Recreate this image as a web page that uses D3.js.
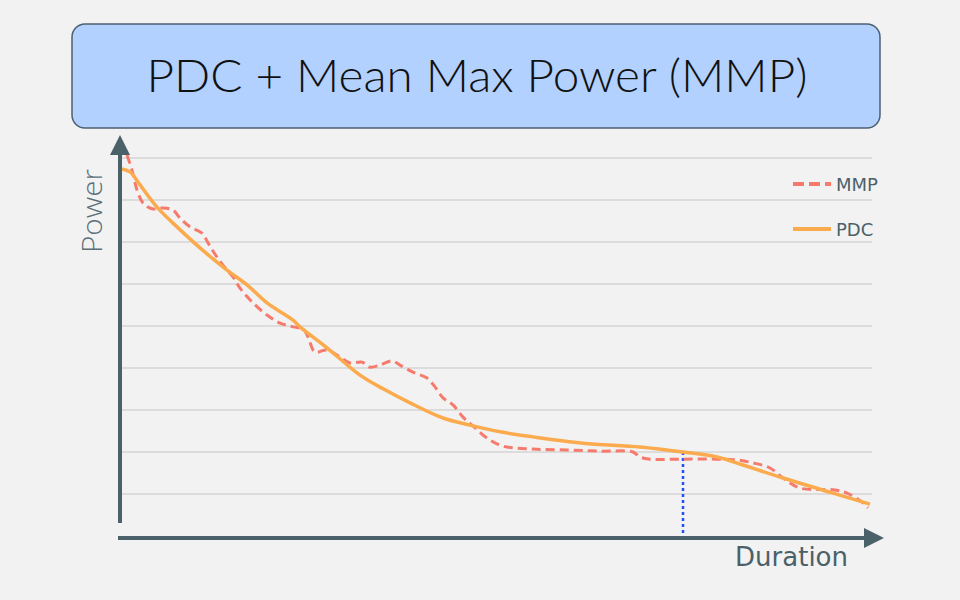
<!DOCTYPE html>
<html><head><meta charset="utf-8">
<script src="https://cdn.jsdelivr.net/npm/d3@7/dist/d3.min.js"></script>
<style>html,body{margin:0;padding:0;background:#f2f2f2;}svg{display:block;}</style>
</head><body>
<svg id="c" width="960" height="600"></svg>
<script>
const titleText = "PDC + Mean Max Power (MMP)";
const seriesNames = ["MMP", "PDC"];
const gridTicks = [100, 200, 300, 400, 500, 600, 700, 800, 900];
// PDC (modelled power duration curve): duration, power
const pdcDur = [2,10,20,37,57,80,107,127,147,173,180,207,240,265,290,323,350,380,413,463,520,563,597,623,663,713,750];
const pdcPow = [874,867,836,783,736,686,633,598,555,514,498,448,383,348,317,281,264,248,236,221,212,200,188,169,138,102,76];
// MMP (mean max power): duration, power
const mmpDur = [7,12,17,23,32,43,53,60,70,82,88,97,107,113,120,133,147,160,173,183,188,195,207,220,230,242,250,260,272,280,293,307,315,323,333,343,353,367,383,413,447,480,513,520,530,563,597,617,633,650,663,680,713,727,743,748];
const mmpPow = [907,871,824,793,779,781,776,757,736,721,698,664,633,617,590,555,526,507,498,493,474,438,443,426,412,414,402,407,417,407,390,376,355,329,312,283,262,233,214,207,205,202,200,188,183,183,183,181,174,162,138,114,110,102,79,67];
const markerDuration = 563;
const markerPower = 200;

const svg = d3.select("#c");
const axisCol = "#4b6169";

// Title box
svg.append("rect").attr("x",72).attr("y",24).attr("width",808).attr("height",104)
  .attr("rx",13).attr("fill","#b3d1fe").attr("stroke","#4e6072").attr("stroke-width",1.5);
svg.append("text").attr("x",477).attr("y",92).attr("text-anchor","middle")
  .attr("font-family","Lato, 'Open Sans', sans-serif").attr("font-weight",300).attr("font-size",45)
  .attr("fill","#111").attr("textLength",661).attr("lengthAdjust","spacingAndGlyphs")
  .text(titleText);

const x = d3.scaleLinear().domain([0,750]).range([120,870]);
const y = d3.scaleLinear().domain([0,900]).range([536,158]);

// grid
svg.append("g").selectAll("line").data(gridTicks).join("line")
  .attr("x1",122).attr("x2",872).attr("y1",d=>y(d)).attr("y2",d=>y(d))
  .attr("stroke","#dcdcdc").attr("stroke-width",2);

// marker
svg.append("line").attr("x1",x(markerDuration)).attr("x2",x(markerDuration))
  .attr("y1",y(markerPower)).attr("y2",533)
  .attr("stroke","#1f4fff").attr("stroke-width",2.5).attr("stroke-dasharray","3,3");

const line = d3.line().x(d=>x(d[0])).y(d=>y(d[1])).curve(d3.curveCatmullRom.alpha(0.5));
const mmp = mmpDur.map((d,i)=>[d,mmpPow[i]]);
const pdc = pdcDur.map((d,i)=>[d,pdcPow[i]]);

svg.append("path").attr("d",line(mmp)).attr("fill","none")
  .attr("stroke","#f77b6d").attr("stroke-width",3).attr("stroke-dasharray","9,5");
svg.append("path").attr("d",line(pdc)).attr("fill","none")
  .attr("stroke","#fbaa4d").attr("stroke-width",3.5);

// axes
svg.append("rect").attr("x",118).attr("y",153).attr("width",4).attr("height",370).attr("fill",axisCol);
svg.append("path").attr("d","M120,135L110,155L130,155Z").attr("fill",axisCol);
svg.append("rect").attr("x",118).attr("y",536).attr("width",748).attr("height",4).attr("fill",axisCol);
svg.append("path").attr("d","M884,538L864,528L864,548Z").attr("fill",axisCol);

svg.append("text").attr("x",848).attr("y",566).attr("text-anchor","end")
  .attr("font-family","DejaVu Sans, sans-serif").attr("font-size",26).attr("fill",axisCol)
  .text("Duration");
svg.append("text").attr("transform","translate(102,253) rotate(-90)")
  .attr("font-family","'Open Sans', sans-serif").attr("font-weight",300).attr("font-size",27).attr("fill","#5a6f77")
  .attr("textLength",84).attr("lengthAdjust","spacingAndGlyphs")
  .text("Power");

// legend
const legY = [184, 229];
const legStyle = [{c:"#f77b6d",w:4,da:"11,5"},{c:"#fbaa4d",w:4,da:null}];
seriesNames.forEach((n,i)=>{
  svg.append("line").attr("x1",793).attr("x2",831).attr("y1",legY[i]).attr("y2",legY[i])
    .attr("stroke",legStyle[i].c).attr("stroke-width",legStyle[i].w)
    .attr("stroke-dasharray",legStyle[i].da);
  svg.append("text").attr("x",836).attr("y",legY[i]+6.5)
    .attr("font-family","DejaVu Sans, sans-serif").attr("font-size",18).attr("fill",axisCol)
    .text(n);
});
</script>
</body></html>
